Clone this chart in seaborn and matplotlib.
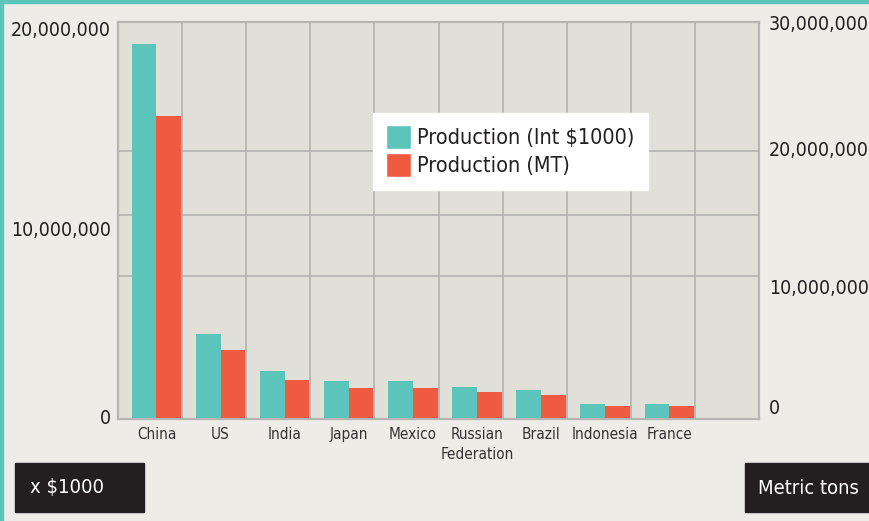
import numpy as np
import pandas as pd
import matplotlib
matplotlib.use("Agg")
import matplotlib.pyplot as plt
import seaborn as sns
from matplotlib.patches import Patch, Rectangle
from matplotlib.ticker import FuncFormatter

# Datos
paises = ["China", "US", "India", "Japan", "Mexico",
          "Russian\nFederation", "Brazil", "Indonesia", "France"]
valor_int1000 = [18900000, 4280000, 2420000, 1910000, 1910000,
                 1610000, 1460000, 760000, 760000]
produccion_mt = [22900000, 5210000, 2950000, 2340000, 2340000,
                 2040000, 1810000, 980000, 980000]
series = ["Production (Int $1000)", "Production (MT)"]
colores = {"Production (Int $1000)": "#5bc4bb", "Production (MT)": "#f05a41"}

sns.set_theme(style="white")
plt.rcParams["font.family"] = ["DejaVu Sans"]
plt.rcParams["font.stretch"] = "condensed"

df_int = pd.DataFrame({"Pais": paises, "Valor": valor_int1000, "Serie": series[0]})
df_mt = pd.DataFrame({"Pais": paises, "Valor": produccion_mt, "Serie": series[1]})

fondo = "#edece7"
fig = plt.figure(figsize=(8.69, 5.21), dpi=100, facecolor=fondo)
ax = fig.add_axes([118 / 869, 1 - 419 / 521, 641 / 869, 397 / 521])
ax.set_facecolor("#e0dfd8")
ax2 = ax.twinx()

sns.barplot(data=df_int, x="Pais", y="Valor", hue="Serie", hue_order=series,
            palette=colores, order=paises, width=0.77, dodge=True, ax=ax,
            legend=False, saturation=1, errorbar=None, linewidth=0)
sns.barplot(data=df_mt, x="Pais", y="Valor", hue="Serie", hue_order=series,
            palette=colores, order=paises, width=0.77, dodge=True, ax=ax2,
            legend=False, saturation=1, errorbar=None, linewidth=0)

ax.set_xlim(-0.6, 9.4)
ax.set_ylim(0, 20000000)
ax2.set_ylim(0, 30000000)
ax.set_yticks([0, 10000000, 20000000])
ax2.set_yticks([0, 10000000, 20000000, 30000000])
fmt = FuncFormatter(lambda v, p: f"{int(v):,}")
ax.yaxis.set_major_formatter(fmt)
ax2.yaxis.set_major_formatter(fmt)

# rejilla
ax.set_xticks(np.arange(10) + 0.4, minor=True)
ax.set_yticks([7200000, 10300000, 13500000], minor=True)
ax.grid(which="minor", color="#b5b5b3", linewidth=1.3)
ax.grid(which="major", visible=False)
ax.set_axisbelow(True)
ax2.set_zorder(ax.zorder)
ax2.patch.set_visible(False)

for a in (ax, ax2):
    a.set_xlabel("")
    a.set_ylabel("")
    for s in a.spines.values():
        s.set_color("#b5b5b3")
        s.set_linewidth(1.5)
    a.tick_params(axis="y", which="both", length=0, labelsize=14,
                  labelcolor="#231f20")
    a.tick_params(axis="x", which="both", length=0)
ax.tick_params(axis="y", pad=5)
ax2.tick_params(axis="y", pad=7)
ax.tick_params(axis="x", labelsize=11, labelcolor="#333333", pad=6)
for t in ax.get_xticklabels():
    t.set_linespacing(1.35)

# pequeños ajustes verticales de las etiquetas, como en el original
desplaz_izq = {20000000: -6, 10000000: -8, 0: 2}
for t, v in zip(ax.get_yticklabels(), ax.get_yticks()):
    t.set_transform(t.get_transform() + matplotlib.transforms.ScaledTranslation(
        0, desplaz_izq.get(int(v), 0) / 100, fig.dpi_scale_trans))
desplaz_der = {20000000: 6, 0: 13}
for t, v in zip(ax2.get_yticklabels(), ax2.get_yticks()):
    t.set_transform(t.get_transform() + matplotlib.transforms.ScaledTranslation(
        0, desplaz_der.get(int(v), 0) / 100, fig.dpi_scale_trans))

# leyenda
manejadores = [Patch(facecolor=colores[s], label=s) for s in series]
leg = ax2.legend(handles=manejadores, loc="upper left",
                 bbox_to_anchor=(0.398, 0.772), borderaxespad=0,
                 frameon=True, fontsize=15.5, handlelength=1.15,
                 handleheight=1.3, handletextpad=0.3, labelspacing=0.2,
                 borderpad=0.6, fancybox=False)
leg.get_frame().set_facecolor("white")
leg.get_frame().set_edgecolor("white")
leg.get_frame().set_alpha(1)
for t in leg.get_texts():
    t.set_color("#231f20")

# cajas de unidades
fig.patches.append(Rectangle((15 / 869, 1 - 512 / 521), 129 / 869, 49 / 521,
                             transform=fig.transFigure, color="#231f20"))
fig.text(30 / 869, 1 - 488 / 521, "x $1000", color="white", fontsize=14.5,
         va="center", ha="left")
fig.patches.append(Rectangle((745 / 869, 1 - 512 / 521), 130 / 869, 49 / 521,
                             transform=fig.transFigure, color="#231f20"))
fig.text(758 / 869, 1 - 488 / 521, "Metric tons", color="white", fontsize=14.5,
         va="center", ha="left")

# borde turquesa
fig.patches.append(Rectangle((0, 0), 3 / 869, 1, transform=fig.transFigure,
                             color="#5bc4bb"))
fig.patches.append(Rectangle((0, 1 - 3 / 521), 1, 3 / 521,
                             transform=fig.transFigure, color="#5bc4bb"))

fig.savefig("out.png", dpi=100, facecolor=fondo)
